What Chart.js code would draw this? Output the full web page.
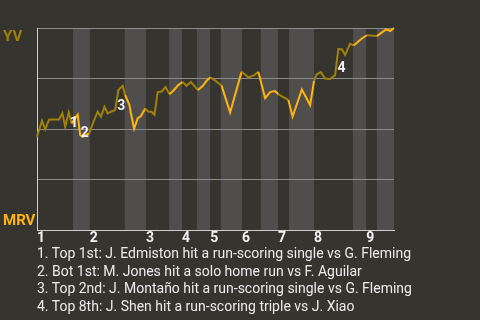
<!DOCTYPE html>
<html>
<head>
<meta charset="utf-8">
<script src="https://cdn.jsdelivr.net/npm/chart.js@4"></script>
<style>
  html, body { margin: 0; padding: 0; background: #36342f; }
  #wrap { position: relative; width: 480px; height: 320px; }
  #notes {
    position: absolute; left: 37px; top: 245px;
    font: 14px Roboto, sans-serif; line-height: 17.7px;
    color: #ececec; white-space: nowrap;
  }
</style>
</head>
<body>
<div id="wrap">
  <canvas id="wpChart" width="480" height="320"></canvas>
  <div id="notes"></div>
</div>
<script>
// game progress (0 = first pitch, 100 = final out) and YV win chance in %
const progress = [0, 1.4, 2.3, 3.4, 6.2, 7.1, 7.9, 8.9, 9.7, 11.4,
  12.1, 12.8, 14.6, 16.0, 17.0, 17.9, 18.9, 19.8, 20.7, 21.9,
  22.8, 24.0, 24.7, 25.9, 26.3, 27.2, 28.2, 29.1, 30.3, 31.2,
  32.1, 32.9, 33.8, 34.9, 36.0, 37.1, 37.9, 39.6, 40.8, 41.9,
  43.1, 45.1, 46.4, 47.5, 48.6, 49.9, 51.7, 54.1, 57.3, 59.2,
  60.9, 62.0, 63.9, 65.3, 66.7, 67.6, 70.4, 71.6, 74.2, 76.5,
  77.6, 78.3, 79.5, 80.7, 82.1, 83.5, 84.4, 85.4, 86.3, 87.7,
  88.7, 91.0, 92.4, 95.2, 97.8, 98.9, 100];
const yvWinPct = [46.3, 54.1, 49.9, 54.8, 54.8, 57.8, 51.1, 58.3, 52.8, 57.1,
  47.0, 46.2, 47.9, 54.5, 58.6, 56.1, 61.0, 57.8, 58.6, 59.4,
  69.3, 71.4, 66.8, 61.9, 57.8, 50.2, 55.3, 56.4, 60.2, 58.6,
  58.6, 57.1, 68.3, 68.6, 70.8, 67.3, 68.5, 71.8, 73.3, 71.4,
  73.3, 69.3, 71.3, 73.9, 75.6, 74.0, 71.5, 58.2, 78.4, 75.6,
  76.7, 78.4, 65.3, 68.3, 68.8, 67.2, 64.4, 56.2, 69.6, 61.9,
  73.8, 77.0, 78.2, 75.0, 74.8, 76.7, 89.6, 89.5, 86.6, 92.3,
  91.3, 94.8, 96.4, 96.0, 99.3, 98.5, 100];

const innings = ['1', '2', '3', '4', '5', '6', '7', '8', '9'];
const inningStarts = [0, 14.8, 30.5, 40.6, 48.5, 57.4, 67.5, 77.6, 92.2];
const bottomStarts = [10.1, 24.6, 37.0, 44.8, 51.5, 62.7, 70.6, 88.5, 95.2];
const gameEnd = 100;

const noteNums = ['1', '2', '3', '4'];
const noteX = [10.4, 13.4, 23.6, 85.3];
const noteY = [53.0, 48.0, 61.0, 80.0];
const playNotes = [
  '1. Top 1st: J. Edmiston hit a run-scoring single vs G. Fleming',
  '2. Bot 1st: M. Jones hit a solo home run vs F. Aguilar',
  '3. Top 2nd: J. Montaño hit a run-scoring single vs G. Fleming',
  '4. Top 8th: J. Shen hit a run-scoring triple vs J. Xiao'
];

const BG = '#36342f';
const BAND = '#504e4c';
const YV_COLOR = '#a0820a';
const MRV_COLOR = '#ffb40f';

document.getElementById('notes').innerHTML = playNotes.join('<br>');

const inBottomHalf = x => bottomStarts.some((b, i) => {
  const end = i + 1 < inningStarts.length ? inningStarts[i + 1] : gameEnd;
  return x >= b && x < end;
});

const inningBands = {
  id: 'inningBands',
  beforeDraw(chart) {
    const {ctx, chartArea: a, scales: {x}} = chart;
    ctx.save();
    ctx.fillStyle = BG;
    ctx.fillRect(0, 0, chart.width, chart.height);
    ctx.fillStyle = BAND;
    bottomStarts.forEach((b, i) => {
      const end = i + 1 < inningStarts.length ? inningStarts[i + 1] : gameEnd;
      const x0 = x.getPixelForValue(b);
      const x1 = x.getPixelForValue(end);
      ctx.fillRect(x0, a.top, x1 - x0, a.bottom - a.top);
    });
    ctx.restore();
  }
};

const playLabels = {
  id: 'playLabels',
  afterDatasetsDraw(chart) {
    const {ctx, chartArea: a, scales: {x, y}} = chart;
    ctx.save();
    ctx.font = 'bold 14px Roboto';
    ctx.fillStyle = '#f2f2f2';
    ctx.textAlign = 'center';
    ctx.textBaseline = 'middle';
    noteNums.forEach((n, i) => {
      ctx.fillText(n, x.getPixelForValue(noteX[i]), y.getPixelForValue(noteY[i]));
    });
    // team names at the ends of the win axis
    ctx.font = 'bold 15px Roboto';
    ctx.textAlign = 'left';
    ctx.textBaseline = 'alphabetic';
    ctx.fillStyle = YV_COLOR;
    ctx.fillText('YV', 3, a.top + 13);
    ctx.fillStyle = MRV_COLOR;
    ctx.fillText('MRV', 3, a.bottom - 5);
    ctx.restore();
  }
};

new Chart(document.getElementById('wpChart').getContext('2d'), {
  type: 'line',
  data: {
    datasets: [{
      data: progress.map((p, i) => ({x: p, y: yvWinPct[i]})),
      borderColor: YV_COLOR,
      borderWidth: 2,
      pointRadius: 0,
      tension: 0,
      clip: false,
      segment: {
        borderColor: c => inBottomHalf((c.p0.parsed.x + c.p1.parsed.x) / 2) ? MRV_COLOR : YV_COLOR
      }
    }]
  },
  options: {
    responsive: false,
    devicePixelRatio: 1,
    animation: false,
    layout: {padding: {left: 37, right: 86, top: 28, bottom: 73}},
    plugins: {legend: {display: false}, tooltip: {enabled: false}},
    scales: {
      x: {
        type: 'linear',
        min: 0,
        max: gameEnd,
        grid: {display: false, drawTicks: false},
        border: {display: true, color: '#cfcfcf', width: 1},
        afterBuildTicks: scale => {
          scale.ticks = inningStarts.map(v => ({value: v}));
        },
        ticks: {
          autoSkip: false,
          maxRotation: 0,
          align: 'start',
          padding: 0,
          color: '#f2f2f2',
          font: {family: 'Roboto', size: 14, weight: 'bold'},
          callback: (v, i) => innings[i]
        }
      },
      y: {
        min: 0,
        max: 100,
        ticks: {display: false, stepSize: 25},
        grid: {color: '#8c8c8c', drawTicks: false},
        border: {display: true, color: '#cfcfcf', width: 1}
      }
    }
  },
  plugins: [inningBands, playLabels]
});
</script>
</body>
</html>
